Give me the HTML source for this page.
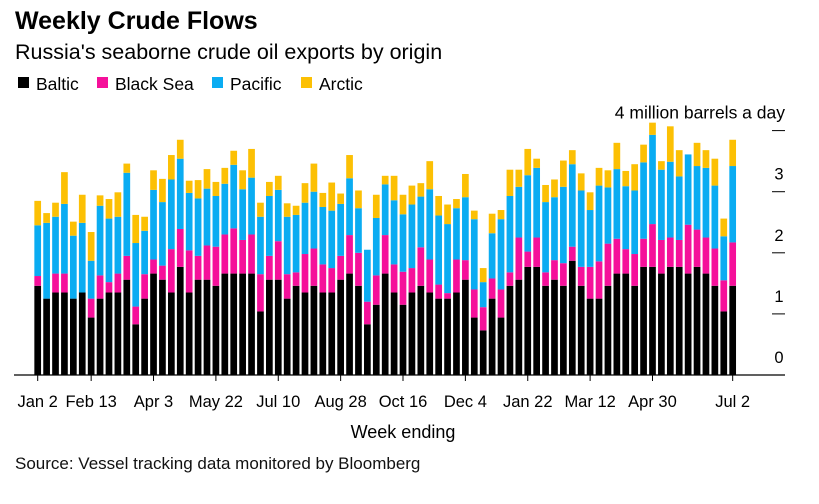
<!DOCTYPE html>
<html><head><meta charset="utf-8"><style>
body{margin:0;background:#fff;font-family:"Liberation Sans",Arial,sans-serif;}
svg{display:block}
</style></head><body>
<svg id="c" width="819" height="504" xmlns="http://www.w3.org/2000/svg">
<text x="15" y="29" font-size="25" font-weight="bold" fill="#000">Weekly Crude Flows</text>
<text x="15" y="59" font-size="21.5" fill="#000">Russia's seaborne crude oil exports by origin</text>
<g font-size="17.5">
<rect x="18" y="77" width="11" height="11" fill="#000"/>
<text x="36" y="90">Baltic</text>
<rect x="97" y="77" width="11" height="11" fill="#f5109a"/>
<text x="115" y="90">Black Sea</text>
<rect x="212" y="77" width="11" height="11" fill="#0aacf2"/>
<text x="230" y="90">Pacific</text>
<rect x="301" y="77" width="11" height="11" fill="#fcc004"/>
<text x="319" y="90">Arctic</text>
</g>
<g id="bars"></g>
<g id="axes"></g>
<text x="403" y="438" font-size="18" text-anchor="middle">Week ending</text>
<text x="15" y="469" font-size="17" fill="#111">Source: Vessel tracking data monitored by Bloomberg</text>
</svg>
<script>
const baltic=[1.46,1.25,1.35,1.35,1.25,1.35,0.94,1.25,1.35,1.35,1.56,0.83,1.25,1.66,1.56,1.35,1.77,1.35,1.56,1.56,1.46,1.66,1.66,1.66,1.66,1.04,1.56,1.56,1.25,1.46,1.35,1.46,1.35,1.35,1.56,1.66,1.46,0.83,1.15,1.66,1.35,1.15,1.35,1.46,1.35,1.25,1.25,1.35,1.56,0.94,0.73,1.25,0.94,1.46,1.56,1.77,1.77,1.46,1.56,1.46,1.87,1.46,1.25,1.25,1.46,1.66,1.66,1.46,1.77,1.77,1.66,1.77,1.77,1.66,1.77,1.66,1.46,1.04,1.46];
const blackSea=[0.16,0,0.31,0.31,0,0,0.31,0.38,0.17,0.31,0.39,0.29,0.40,0.23,0.23,0.71,0.62,0.69,0.39,0.56,0.64,0.64,0.74,0.55,0.64,0.61,0.39,0.63,0.40,0.22,0.63,0.61,0.46,0.40,0.39,0.63,0.54,0.37,0.48,0.63,0.46,0.54,0.40,0.63,0.54,0.23,0.09,0.54,0.32,0.46,0.38,0.33,0.46,0.22,0.69,0.25,0.48,0.22,0.32,0.37,0.23,0.31,0.52,0.61,0.69,0.57,0.40,0.52,0.46,0.70,0.55,0.48,0.44,0.80,0.61,0.59,0.61,0.51,0.71];
const pacific=[0.83,1.24,0.93,1.14,1.03,1.14,0.62,1.14,1.04,0.93,1.36,1.04,0.71,1.14,1.04,1.14,1.15,0.94,0.94,0.93,0.83,0.83,1.04,0.83,0.93,0.94,0.98,0.84,0.94,0.94,0.84,0.93,0.94,0.94,0.85,0.93,0.73,0.85,0.94,0.83,1.05,0.94,1.04,0.83,1.15,1.13,1.13,0.84,1.03,1.15,0.41,0.74,1.15,1.25,0.83,1.25,1.14,1.15,1.03,1.25,1.35,1.25,0.93,1.24,0.92,1.14,1.03,1.04,1.25,1.46,1.15,1.24,1.04,1.15,1.04,1.14,1.03,0.72,1.25];
const arctic=[0.40,0.16,0.23,0.52,0.23,0.46,0.47,0.17,0.32,0.40,0.15,0.46,0.23,0.32,0.38,0.40,0.31,0.20,0.30,0.32,0.23,0.26,0.23,0.31,0.47,0.23,0.23,0.23,0.22,0.15,0.32,0.46,0.23,0.46,0.17,0.38,0.29,0,0.38,0.14,0.40,0.32,0.31,0.22,0.46,0.32,0.32,0.15,0.38,0.14,0.23,0.32,0.15,0.43,0.28,0.43,0.15,0.28,0.29,0.43,0.23,0.28,0.29,0.29,0.28,0.43,0.25,0.43,0.29,0.20,0.14,0.58,0.43,0,0.38,0.29,0.44,0.29,0.43];
const tickIdx=[0,6,13,20,27,34,41,48,55,62,69,78];
const tickLabels=["Jan 2","Feb 13","Apr 3","May 22","Jul 10","Aug 28","Oct 16","Dec 4","Jan 22","Mar 12","Apr 30","Jul 2"];
const yTicks=[0,1,2,3,4];

const NS="http://www.w3.org/2000/svg";
const x0=37.7, pitch=8.91, bw=6.7, base=375, unit=61.1;
const xPos=i=>x0+i*pitch;
const yPos=v=>base-v*unit;
const series=[[baltic,"#000","baltic"],[blackSea,"#f5109a","black-sea"],[pacific,"#0aacf2","pacific"],[arctic,"#fcc004","arctic"]];
const g=document.getElementById('bars');
for(let i=0;i<baltic.length;i++){
  let cum=0;
  for(const [arr,col,nm] of series){
    const v=arr[i];
    if(v>0){
      const r=document.createElementNS(NS,'rect');
      r.setAttribute('x',xPos(i)-bw/2);
      r.setAttribute('y',yPos(cum+v));
      r.setAttribute('width',bw);
      r.setAttribute('height',v*unit);
      r.setAttribute('fill',col);
      
      
      g.appendChild(r);
    }
    cum+=v;
  }
}
const ax=document.getElementById('axes');
function el(tag,attrs,txt){const e=document.createElementNS(NS,tag);for(const k in attrs)e.setAttribute(k,attrs[k]);if(txt!=null)e.textContent=txt;ax.appendChild(e);return e;}
const bl=el('line',{x1:14,x2:785,y1:base,y2:base,stroke:'#000','stroke-width':1.2});


tickIdx.forEach((ti,k)=>{
  const t=el('line',{x1:xPos(ti),x2:xPos(ti),y1:base,y2:base+6,stroke:'#000','stroke-width':1});
  
  
  const lb=el('text',{x:xPos(ti),y:407,'font-size':16.5,'text-anchor':'middle'},tickLabels[k]);
  
  
});
yTicks.forEach(v=>{
  if(v>0){
    const t=el('line',{x1:772,x2:785,y1:yPos(v),y2:yPos(v),stroke:'#000','stroke-width':1});
    
    
  }
  const txt=v===4?'4 million barrels a day':String(v);
  const lb=el('text',{x:v===4?785:779,y:yPos(v)-12,'font-size':v===4?17.5:16.5,'text-anchor':v===4?'end':'middle'},txt);
  
  
});
</script>
</body></html>
